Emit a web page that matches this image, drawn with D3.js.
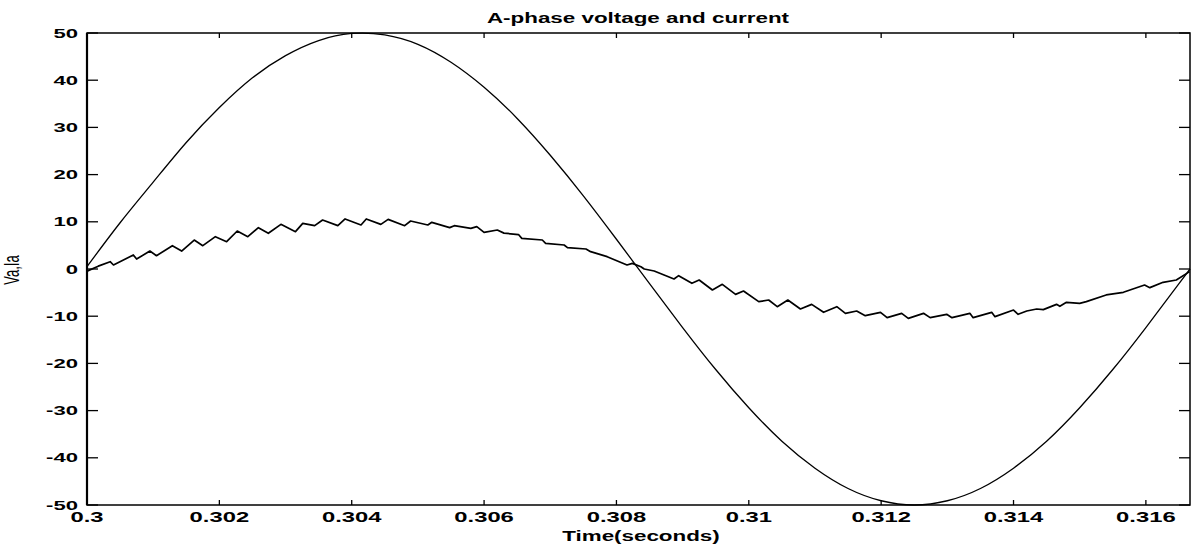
<!DOCTYPE html>
<html>
<head>
<meta charset="utf-8">
<script src="https://cdn.jsdelivr.net/npm/d3@7"></script>
<style>
    body { margin: 0; background: #fff; }
    svg text { font-family: "Liberation Sans", Arial, sans-serif; fill: #000; }
</style>
</head>
<body>
<svg id="chart" width="1191" height="547"></svg>
<script>
// Va, every 0.5 ms
var timeV = [0.3000, 0.3005, 0.3010, 0.3015, 0.3020, 0.3025, 0.3030, 0.3035, 0.3040, 0.3045,
    0.3050, 0.3055, 0.3060, 0.3065, 0.3070, 0.3075, 0.3080, 0.3085, 0.3090, 0.3095,
    0.3100, 0.3105, 0.3110, 0.3115, 0.3120, 0.3125, 0.3130, 0.3135, 0.3140, 0.3145,
    0.3150, 0.3155, 0.3160, 0.3165, 0.316667];
var voltage = [0.5, 9.8, 18.4, 26.8, 34.2, 40.5, 45.2, 48.4, 49.9, 49.6,
    47.6, 43.8, 38.5, 31.9, 24.1, 15.5, 6.3, -3.1, -12.4, -21.3,
    -29.4, -36.5, -42.2, -46.5, -49.1, -50.0, -49.1, -46.5, -42.2, -36.5,
    -29.4, -21.3, -12.4, -3.1, 0.0];

// Ia, ripple peaks and troughs
var timeI = [0.30001, 0.30017, 0.30035, 0.30040, 0.30070, 0.30075, 0.30095, 0.30105, 0.30129, 0.30143,
    0.30162, 0.30175, 0.30194, 0.30211, 0.30227, 0.30243, 0.30259, 0.30274, 0.30293, 0.30315,
    0.30326, 0.30344, 0.30356, 0.30379, 0.30390, 0.30414, 0.30422, 0.30444, 0.30455, 0.30480,
    0.30489, 0.30515, 0.30521, 0.30548, 0.30555, 0.30580, 0.30589, 0.30600, 0.30620, 0.30630,
    0.30652, 0.30657, 0.30688, 0.30693, 0.30721, 0.30726, 0.30754, 0.30761, 0.30786, 0.30816,
    0.30824, 0.30837, 0.30842, 0.30857, 0.30887, 0.30894, 0.30914, 0.30925, 0.30945, 0.30960,
    0.30980, 0.30992, 0.31015, 0.31030, 0.31043, 0.31059, 0.31078, 0.31095, 0.31113, 0.31133,
    0.31146, 0.31163, 0.31176, 0.31199, 0.31209, 0.31231, 0.31241, 0.31264, 0.31274, 0.31299,
    0.31307, 0.31334, 0.31339, 0.31367, 0.31372, 0.31400, 0.31407, 0.31420, 0.31435, 0.31445,
    0.31465, 0.31470, 0.31480, 0.31500, 0.31510, 0.31540, 0.31566, 0.31598, 0.31606, 0.31626,
    0.31646, 0.31666];
var current = [-0.4, 0.6, 1.55, 0.85, 2.97, 2.1, 3.81, 2.82, 4.94, 3.81,
    6.14, 4.94, 6.85, 5.79, 8.05, 6.85, 8.76, 7.56, 9.46, 7.91,
    9.67, 9.18, 10.38, 9.18, 10.6, 9.32, 10.6, 9.46, 10.52, 9.18,
    10.17, 9.32, 9.89, 8.76, 9.18, 8.62, 8.97, 7.77, 8.26, 7.6,
    7.3, 6.5, 6.14, 5.44, 5.08, 4.52, 4.24, 3.67, 2.61, 0.85,
    1.2, 0.49, 0.0, -0.42, -2.12, -1.41, -3.04, -2.33, -4.45, -3.25,
    -5.37, -4.66, -6.92, -6.57, -7.98, -6.57, -8.47, -7.49, -9.18, -7.98,
    -9.39, -8.9, -9.89, -9.18, -10.31, -9.39, -10.45, -9.39, -10.31, -9.6,
    -10.31, -9.39, -10.31, -9.18, -10.1, -8.69, -9.6, -8.9, -8.47, -8.6,
    -7.49, -7.9, -7.06, -7.27, -6.92, -5.5, -4.94, -3.39, -3.95, -2.82,
    -2.33, -0.56];

var xTicks = [0.300, 0.302, 0.304, 0.306, 0.308, 0.310, 0.312, 0.314, 0.316];
var yTicks = [-50, -40, -30, -20, -10, 0, 10, 20, 30, 40, 50];

var titleText = "A-phase voltage and current";
var xLabel = "Time(seconds)";
var yLabel = "Va,Ia";

// the scanned figure is stretched sideways, so text is too
var stretch = 1.7;

var svg = d3.select("#chart");
var plotLeft = 87, plotRight = 1190, plotTop = 33, plotBottom = 505;

var x = d3.scaleLinear().domain([0.3, 0.3 + 1 / 60]).range([plotLeft, plotRight]);
var y = d3.scaleLinear().domain([-50, 50]).range([plotBottom, plotTop]);

// Ticks (inward, on all four sides)
var ticks = svg.append("g").attr("stroke", "#000").attr("stroke-width", 1.3);
xTicks.forEach(function (t) {
    ticks.append("line").attr("x1", x(t)).attr("x2", x(t)).attr("y1", plotBottom).attr("y2", plotBottom - 5);
    ticks.append("line").attr("x1", x(t)).attr("x2", x(t)).attr("y1", plotTop).attr("y2", plotTop + 5);
});
yTicks.forEach(function (v) {
    ticks.append("line").attr("x1", plotLeft).attr("x2", plotLeft + 11).attr("y1", y(v)).attr("y2", y(v));
    ticks.append("line").attr("x1", plotRight).attr("x2", plotRight - 11).attr("y1", y(v)).attr("y2", y(v));
});

// Frame
svg.append("rect")
    .attr("x", plotLeft).attr("y", plotTop)
    .attr("width", plotRight - plotLeft).attr("height", plotBottom - plotTop)
    .attr("fill", "none").attr("stroke", "#000").attr("stroke-width", 1.5);
svg.append("line")
    .attr("x1", plotLeft).attr("x2", plotLeft).attr("y1", plotTop).attr("y2", plotBottom)
    .attr("stroke", "#000").attr("stroke-width", 2.2);

// Tick labels
var fmtX = function (d) { return String(+d.toFixed(3)); };
svg.append("g").selectAll("text")
    .data(xTicks)
    .enter().append("text")
    .attr("transform", function (d) { return "translate(" + x(d) + "," + 522 + ") scale(" + stretch + ",1)"; })
    .attr("text-anchor", "middle")
    .style("font-size", "14px")
    .style("font-weight", "bold")
    .text(fmtX);

svg.append("g").selectAll("text")
    .data(yTicks)
    .enter().append("text")
    .attr("transform", function (d) { return "translate(" + 78 + "," + (y(d) + 4.6) + ") scale(" + stretch + ",1)"; })
    .attr("text-anchor", "end")
    .style("font-size", "13px")
    .style("font-weight", "bold")
    .text(function (d) { return String(d); });

// Title and axis labels
svg.append("text")
    .attr("transform", "translate(638,23) scale(1.6,1)")
    .attr("text-anchor", "middle")
    .style("font-size", "14px")
    .style("font-weight", "bold")
    .text(titleText);

svg.append("text")
    .attr("transform", "translate(641,541) scale(1.6,1)")
    .attr("text-anchor", "middle")
    .style("font-size", "14px")
    .style("font-weight", "bold")
    .text(xLabel);

svg.append("text")
    .attr("transform", "translate(19,270) scale(" + stretch + ",1) rotate(-90)")
    .attr("text-anchor", "middle")
    .style("font-size", "13px")
    .text(yLabel);

// Curves
var vData = d3.zip(timeV, voltage);
var iData = d3.zip(timeI, current);

svg.append("path")
    .datum(vData)
    .attr("fill", "none")
    .attr("stroke", "#000")
    .attr("stroke-width", 1.3)
    .attr("d", d3.line().x(function (d) { return x(d[0]); }).y(function (d) { return y(d[1]); }).curve(d3.curveNatural));

svg.append("path")
    .datum(iData)
    .attr("fill", "none")
    .attr("stroke", "#000")
    .attr("stroke-width", 1.7)
    .attr("stroke-linejoin", "round")
    .attr("d", d3.line().x(function (d) { return x(d[0]); }).y(function (d) { return y(d[1]); }));
</script>
</body>
</html>
